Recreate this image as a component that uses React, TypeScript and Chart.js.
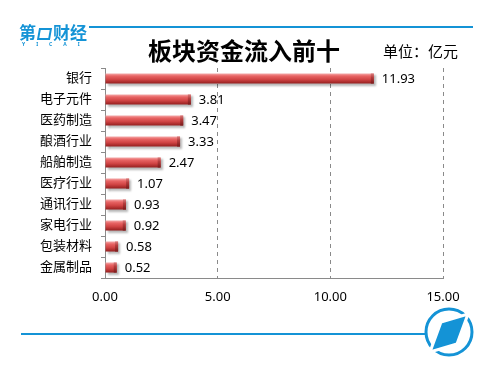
import React, { useEffect, useRef } from "react";
import { Chart, registerables } from "chart.js";

Chart.register(...registerables);

const categories = ["银行", "电子元件", "医药制造", "酿酒行业", "船舶制造", "医疗行业", "通讯行业", "家电行业", "包装材料", "金属制品"];
const values = [11.93, 3.81, 3.47, 3.33, 2.47, 1.07, 0.93, 0.92, 0.58, 0.52];
const xMin = 0;
const xMax = 15;
const xStep = 5;
const titleText = "板块资金流入前十";
const unitText = "单位：亿元";

const FONT = "'Noto Sans', 'Noto Sans CJK SC', sans-serif";
const BLUE = "#1493d6";

const barFx = {
  id: "barFx",
  beforeDatasetDraw(chart: any) {
    const ctx = chart.ctx;
    ctx.save();
    ctx.shadowColor = "rgba(0,0,0,0.28)";
    ctx.shadowOffsetX = 2;
    ctx.shadowOffsetY = 2;
    ctx.shadowBlur = 2;
  },
  afterDatasetDraw(chart: any) {
    const ctx = chart.ctx;
    ctx.restore();
    const meta = chart.getDatasetMeta(0);
    meta.data.forEach((el: any, i: number) => {
      const h = el.height;
      const top = el.y - h / 2;
      const g = ctx.createLinearGradient(0, top, 0, top + h);
      g.addColorStop(0, "#d77a7a");
      g.addColorStop(0.4, "#b43c3c");
      g.addColorStop(1, "#7a1a1a");
      ctx.fillStyle = g;
      const capW = 3;
      ctx.fillRect(el.x - capW, top, capW, h);
      ctx.fillStyle = "#000";
      ctx.font = `13px ${FONT}`;
      ctx.textBaseline = "middle";
      ctx.textAlign = "left";
      ctx.fillText(values[i].toFixed(2), el.x + 8, el.y + 1);
    });
  },
};

function App() {
  const ref = useRef<HTMLCanvasElement | null>(null);
  useEffect(() => {
    if (!ref.current) return;
    const chart = new Chart(ref.current, {
      type: "bar",
      data: {
        labels: categories,
        datasets: [
          {
            data: values,
            barPercentage: 0.48,
            categoryPercentage: 1,
            borderWidth: 0,
            backgroundColor: (c: any) => {
              const ch = c.chart;
              const ys = ch.scales && ch.scales.y;
              if (!ch.chartArea || !ys) return "#d64a4a";
              const yc = ys.getPixelForValue(c.dataIndex);
              const h = 10;
              const g = ch.ctx.createLinearGradient(0, yc - h / 2, 0, yc + h / 2);
              g.addColorStop(0, "#f5aaaa");
              g.addColorStop(0.25, "#e86464");
              g.addColorStop(0.6, "#d04444");
              g.addColorStop(1, "#951f1f");
              return g;
            },
          },
        ],
      },
      options: {
        indexAxis: "y",
        responsive: false,
        animation: false,
        layout: { padding: { top: 68, right: 57, left: 0, bottom: 0 } },
        plugins: {
          legend: { display: false },
          tooltip: { enabled: false },
          title: { display: false },
        },
        scales: {
          x: {
            min: xMin,
            max: xMax,
            afterFit: (s: any) => {
              s.height = 95;
            },
            ticks: {
              stepSize: xStep,
              padding: 11,
              color: "#000",
              font: { family: FONT, size: 13 },
              callback: (v: any) => Number(v).toFixed(2),
            },
            grid: {
              drawTicks: false,
              color: (c: any) => (c.tick && c.tick.value === 0 ? "rgba(0,0,0,0)" : "#8a8a8a"),
              lineWidth: 1,
            },
            border: { display: true, color: "#8a8a8a", width: 1, dash: [4, 4] },
          },
          y: {
            afterFit: (s: any) => {
              s.width = 105;
            },
            ticks: {
              padding: 9,
              color: "#000",
              font: { family: FONT, size: 13 },
            },
            grid: {
              drawOnChartArea: false,
              drawTicks: true,
              tickLength: 4,
              color: "#8a8a8a",
            },
            border: { display: true, color: "#8a8a8a", width: 1 },
          },
        },
      },
      plugins: [barFx],
    } as any);
    return () => chart.destroy();
  }, []);

  return (
    <div style={{ position: "fixed", left: 0, top: 0, width: 500, height: 373, background: "#fff", overflow: "hidden" }}>
      <canvas ref={ref} width={500} height={373} style={{ position: "absolute", left: 0, top: 0, width: 500, height: 373 }} />
      {/* top logo */}
      <div style={{ position: "absolute", left: 19, top: 22, fontFamily: "'Noto Sans CJK SC', sans-serif", fontWeight: 700, fontSize: 17, lineHeight: "19px", color: BLUE, letterSpacing: 0, whiteSpace: "nowrap" }}>
        第<span style={{ display: "inline-block", width: 13, height: 12, border: `2px solid ${BLUE}`, boxSizing: "border-box", margin: "0 2px", verticalAlign: "-1px", transform: "skewX(-10deg)" }} />财经
      </div>
      <div style={{ position: "absolute", left: 22, top: 41, fontFamily: "'Noto Sans', sans-serif", fontWeight: 700, fontSize: 5, lineHeight: "6px", color: BLUE, letterSpacing: 11, whiteSpace: "nowrap" }}>
        YICAI
      </div>
      <div style={{ position: "absolute", left: 89, top: 26, width: 384, height: 2, background: BLUE }} />
      {/* title */}
      <div style={{ position: "absolute", left: 148, top: 37, fontFamily: "'Noto Sans CJK SC', sans-serif", fontWeight: 700, fontSize: 24, lineHeight: "26px", color: "#000", whiteSpace: "nowrap" }}>
        {titleText}
      </div>
      <div style={{ position: "absolute", left: 383, top: 42, fontFamily: "'Noto Sans CJK SC', sans-serif", fontSize: 15, lineHeight: "17px", color: "#000", whiteSpace: "nowrap" }}>
        {unitText}
      </div>
      {/* bottom line + logo */}
      <div style={{ position: "absolute", left: 21, top: 333, width: 406, height: 2, background: BLUE }} />
      <svg width={60} height={60} style={{ position: "absolute", left: 419, top: 302 }} viewBox="419 302 60 60">
        <circle cx={449} cy={332} r={23} fill="#fff" stroke={BLUE} strokeWidth={3} />
        <polygon points="441,322 468,314 457,344 430,352" fill={BLUE} stroke="#fff" strokeWidth={3} strokeLinejoin="miter" />
      </svg>
    </div>
  );
}

export default App;
